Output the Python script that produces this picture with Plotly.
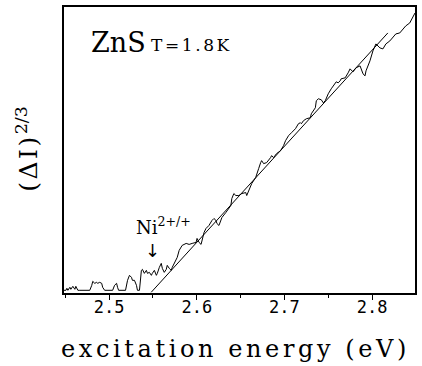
import plotly.graph_objects as go

# excitation energy (eV) and (ΔI)^{2/3} (arbitrary units)
energy = [
    2.4484, 2.4507, 2.4518, 2.4529, 2.4552, 2.4563, 2.4586, 2.4609, 2.4620, 2.4643,
    2.4666, 2.4779, 2.4802, 2.4813, 2.4836, 2.4858, 2.4870, 2.4892, 2.4915, 2.4926,
    2.4949, 2.5040, 2.5062, 2.5085, 2.5096, 2.5108, 2.5187, 2.5210, 2.5232, 2.5255,
    2.5266, 2.5289, 2.5312, 2.5323, 2.5346, 2.5368, 2.5380, 2.5402, 2.5425, 2.5437,
    2.5459, 2.5482, 2.5493, 2.5516, 2.5539, 2.5550, 2.5573, 2.5595, 2.5607, 2.5629,
    2.5652, 2.5663, 2.5686, 2.5709, 2.5720, 2.5777, 2.5799, 2.5833, 2.5879, 2.5913,
    2.5947, 2.5992, 2.6003, 2.6026, 2.6049, 2.6060, 2.6083, 2.6105, 2.6139, 2.6173,
    2.6196, 2.6219, 2.6230, 2.6253, 2.6276, 2.6287, 2.6332, 2.6366, 2.6389, 2.6400,
    2.6423, 2.6446, 2.6480, 2.6514, 2.6559, 2.6570, 2.6593, 2.6627, 2.6672, 2.6684,
    2.6706, 2.6729, 2.6740, 2.6763, 2.6797, 2.6842, 2.6854, 2.6876, 2.6910, 2.6956,
    2.6990, 2.7013, 2.7047, 2.7081, 2.7126, 2.7160, 2.7183, 2.7194, 2.7217, 2.7251,
    2.7296, 2.7307, 2.7353, 2.7364, 2.7387, 2.7421, 2.7443, 2.7466, 2.7500, 2.7534,
    2.7579, 2.7591, 2.7613, 2.7636, 2.7647, 2.7693, 2.7727, 2.7749, 2.7783, 2.7817,
    2.7863, 2.7874, 2.7897, 2.7920, 2.7931, 2.7976, 2.8010, 2.8044, 2.8090, 2.8124,
    2.8158, 2.8203, 2.8237, 2.8271, 2.8316, 2.8350, 2.8384, 2.8430, 2.8464, 2.8490,
]
signal = [
    2, 2, 4, 2, 5, 3, 6, 3, 6, 2,
    2, 2, 7, 11, 9, 10, 9, 10, 9, 5,
    2, 2, 7, 9, 5, 2, 2, 12, 17, 15,
    12, 12, 7, 2, 2, 22, 23, 19, 22, 19,
    20, 17, 19, 22, 17, 19, 25, 29, 24, 20,
    23, 27, 24, 22, 25, 35, 42, 47, 49, 48,
    49, 50, 54, 50, 48, 53, 60, 64, 67, 72,
    74, 72, 69, 67, 72, 75, 80, 85, 87, 94,
    99, 97, 97, 99, 100, 97, 102, 109, 115, 119,
    124, 130, 132, 129, 130, 135, 137, 135, 139, 142,
    147, 152, 157, 160, 164, 169, 170, 169, 172, 174,
    175, 179, 185, 192, 194, 193, 190, 192, 199, 204,
    209, 211, 210, 212, 214, 215, 220, 224, 221, 225,
    227, 224, 219, 217, 222, 232, 242, 249, 245, 244,
    249, 252, 255, 259, 260, 264, 267, 270, 275, 280,
]
# linear fit line (ΔI)^{2/3} ∝ (E - Eth)
fit_energy = [2.548, 2.818]
fit_signal = [0, 260]

tick_vals = [2.5, 2.6, 2.7, 2.8]
tick_text = ["2.5", "2.6", "2.7", "2.8"]

SERIF = "DejaVu Serif"

fig = go.Figure()
fig.add_trace(go.Scatter(x=energy, y=signal, mode="lines",
                         line=dict(color="black", width=1), showlegend=False))
fig.add_trace(go.Scatter(x=fit_energy, y=fit_signal, mode="lines",
                         line=dict(color="black", width=1), showlegend=False))

fig.update_layout(
    width=422, height=366,
    margin=dict(l=64, r=5, t=6, b=73),
    paper_bgcolor="white", plot_bgcolor="white",
    xaxis=dict(range=[2.4485, 2.849], tickvals=tick_vals, ticktext=tick_text,
               ticks="outside", ticklen=5, tickwidth=1.2, tickcolor="black",
               minor=dict(ticks="outside", ticklen=3, tickwidth=1, tickcolor="black", dtick=0.05),
               showline=True, linecolor="black", linewidth=1.5, mirror=True,
               showgrid=False, zeroline=False, ticklabelstandoff=-7,
               tickfont=dict(family="DejaVu Sans Mono", size=17, color="black")),
    yaxis=dict(range=[-0.7, 286], showticklabels=False, ticks="",
               showline=True, linecolor="black", linewidth=1.5, mirror=True,
               showgrid=False, zeroline=False),
    annotations=[
        dict(text='<span style="letter-spacing:3.6px">excitation energy (eV)</span>',
             xref="paper", yref="paper",
             x=0.489, y=-0.196, xanchor="center", yanchor="middle", showarrow=False,
             font=dict(family=SERIF, size=24, color="black")),
        dict(text='<span style="letter-spacing:2.5px">(ΔI)</span><sup>2/3</sup>',
             xref="paper", yref="paper",
             x=-0.105, y=0.505, xanchor="center", yanchor="middle", showarrow=False,
             textangle=-90,
             font=dict(family=SERIF, size=25, color="black")),
        dict(text="ZnS", xref="x", yref="y", x=2.5102, y=250,
             xanchor="center", yanchor="middle", showarrow=False,
             font=dict(family=SERIF, size=27, color="black")),
        dict(text='<span style="letter-spacing:2.6px">T=1.8K</span>', xref="x", yref="y",
             x=2.5945, y=248,
             xanchor="center", yanchor="middle", showarrow=False,
             font=dict(family=SERIF, size=17, color="black")),
        dict(text="Ni<sup>2+/+</sup>", xref="x", yref="y", x=2.5618, y=66,
             xanchor="center", yanchor="middle", showarrow=False,
             font=dict(family=SERIF, size=18, color="black")),
        dict(text="↓", xref="x", yref="y", x=2.5493, y=42,
             xanchor="center", yanchor="middle", showarrow=False,
             font=dict(family="DejaVu Sans", size=18, color="black")),
    ],
)

fig.write_html("out.html")
